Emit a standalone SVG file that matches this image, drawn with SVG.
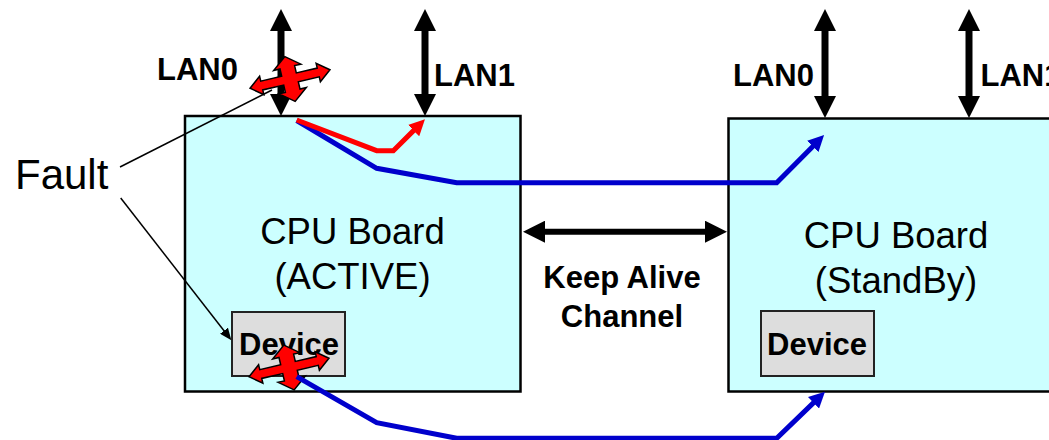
<svg xmlns="http://www.w3.org/2000/svg" width="1049" height="440" viewBox="0 0 1049 440">
<style>
.board{fill:#ccffff;stroke:#000;stroke-width:2.5}
.dev{fill:#dddddd;stroke:#222;stroke-width:2}
.bold{font-family:"Liberation Sans",Arial,sans-serif;font-weight:bold;font-size:31px;fill:#000}
.reg{font-family:"Liberation Sans",Arial,sans-serif;font-size:36.5px;fill:#000}
.lan{stroke:#000;stroke-width:7;fill:none}
.ka{stroke:#000;stroke-width:6;fill:none}
.blue{stroke:#0000cc;stroke-width:5;fill:none;stroke-linejoin:miter}
.red{stroke:#ff0000;stroke-width:5;fill:none}
.thin{stroke:#000;stroke-width:1.5;fill:none}
.fx{fill:#ff0000;stroke:#000;stroke-width:1.5;stroke-linejoin:miter}
</style>
<defs>
<marker id="hd" markerUnits="userSpaceOnUse" markerWidth="22" markerHeight="22" refX="1" refY="11" orient="auto-start-reverse" viewBox="0 0 22 22">
<path d="M0,0 L22,11 L0,22 z" fill="#000"/>
</marker>
<marker id="hb" markerUnits="userSpaceOnUse" markerWidth="16" markerHeight="16" refX="1" refY="8" orient="auto" viewBox="0 0 16 16">
<path d="M0,0 L16,8 L0,16 z" fill="#0000cc"/>
</marker>
<marker id="hr" markerUnits="userSpaceOnUse" markerWidth="16" markerHeight="16" refX="1" refY="8" orient="auto" viewBox="0 0 16 16">
<path d="M0,0 L16,8 L0,16 z" fill="#ff0000"/>
</marker>
<marker id="hs" markerUnits="userSpaceOnUse" markerWidth="12" markerHeight="10" refX="1" refY="5" orient="auto" viewBox="0 0 12 10">
<path d="M0,0 L12,5 L0,10 z" fill="#000"/>
</marker>
<polygon id="cross" points="41,0 29,-9.5 29,-4.5 7.5,-4.5 7.5,-12 14,-12 0,-23 -14,-12 -7.5,-12 -7.5,-4.5 -29,-4.5 -29,-9.5 -41,0 -29,9.5 -29,4.5 -7.5,4.5 -7.5,12 -14,12 0,23 14,12 7.5,12 7.5,4.5 29,4.5 29,9.5"/>
</defs>

<g id="board-active">
<rect class="board" x="185" y="116" width="335.5" height="275.5"/>
<text class="reg" x="352.5" y="244" text-anchor="middle">CPU Board</text>
<text class="reg" x="352.5" y="289" text-anchor="middle">(ACTIVE)</text>
</g>
<g id="board-standby">
<rect class="board" x="728.5" y="118.5" width="340" height="273"/>
<text class="reg" x="896" y="247.5" text-anchor="middle">CPU Board</text>
<text class="reg" x="896" y="292.5" text-anchor="middle">(StandBy)</text>
</g>
<g id="device-active">
<rect class="dev" x="232" y="312" width="113" height="64"/>
<text class="bold" x="289" y="354.5" text-anchor="middle">Device</text>
<use href="#cross" class="fx" transform="translate(289,367.5) rotate(-13)"/>
</g>
<g id="device-standby">
<rect class="dev" x="761" y="311" width="113" height="65"/>
<text class="bold" x="817" y="354.5" text-anchor="middle">Device</text>
</g>

<g id="labels">
<text class="bold" x="157" y="80">LAN0</text>
<text class="bold" x="434" y="86">LAN1</text>
<text class="bold" x="733" y="86">LAN0</text>
<text class="bold" x="980.5" y="86">LAN1</text>
<text class="bold" x="622" y="287.5" text-anchor="middle">Keep Alive</text>
<text class="bold" x="622" y="327" text-anchor="middle">Channel</text>
<text x="15" y="189" font-family="'Liberation Sans',Arial,sans-serif" font-size="42" fill="#000">Fault</text>
</g>

<g id="connectors">
<line class="lan" x1="281" y1="30" x2="281" y2="95" marker-start="url(#hd)" marker-end="url(#hd)"/>
<line class="lan" x1="425" y1="30" x2="425" y2="95" marker-start="url(#hd)" marker-end="url(#hd)"/>
<line class="lan" x1="825" y1="30" x2="825" y2="97" marker-start="url(#hd)" marker-end="url(#hd)"/>
<line class="lan" x1="969" y1="30" x2="969" y2="97" marker-start="url(#hd)" marker-end="url(#hd)"/>
<line class="ka" x1="544" y1="231.7" x2="706" y2="231.7" marker-start="url(#hd)" marker-end="url(#hd)"/>
<polyline class="blue" points="296.7,120.5 376.7,168.3 456.7,182.7 776.7,182.7 813.5,145.7" marker-end="url(#hb)"/>
<polyline class="red" points="296.7,120 376.7,150.7 393.3,150.7 414.3,129.9" marker-end="url(#hr)"/>
<polyline class="blue" points="296.7,376.7 376.7,422.7 456.7,438.3 776.7,438.3 814.2,402.1" marker-end="url(#hb)"/>
<line class="thin" x1="120" y1="167" x2="272" y2="90"/>
<line class="thin" x1="120.7" y1="198" x2="224.6" y2="331.5" marker-end="url(#hs)"/>
</g>

<g id="fault-lan0">
<use href="#cross" class="fx" transform="translate(290,79) rotate(-13)"/>
</g>
</svg>
